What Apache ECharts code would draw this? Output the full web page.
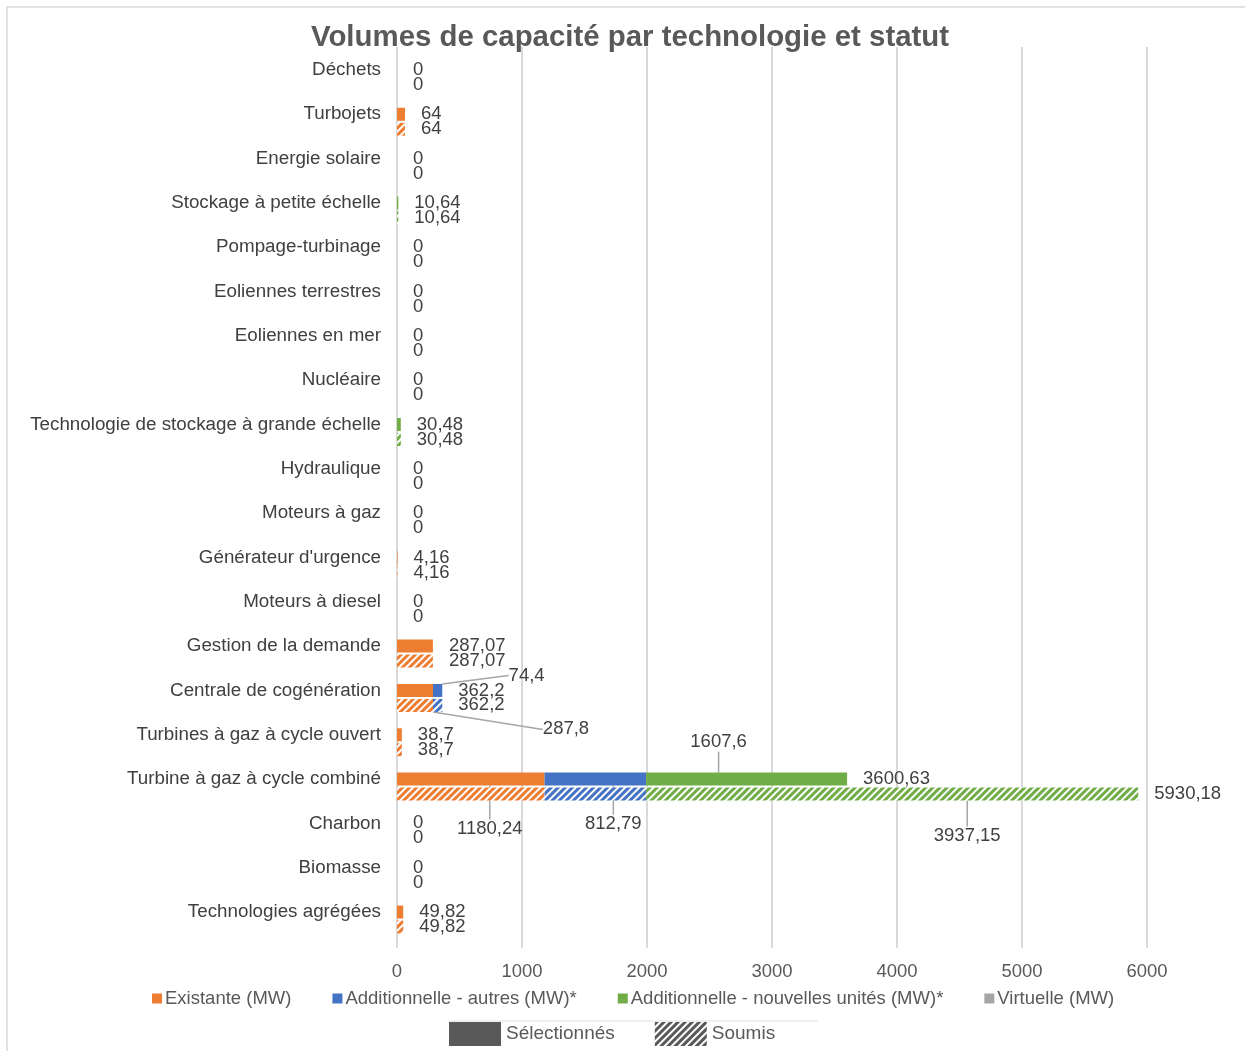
<!DOCTYPE html>
<html><head><meta charset="utf-8">
<script src="https://cdn.jsdelivr.net/npm/echarts@6/dist/echarts.min.js"></script>
<style>html,body{margin:0;padding:0;background:#fff}#c{width:1245px;height:1051px}</style>
</head><body><div id="c"></div>
<script>
// ---------- DATA ----------
const categories = ["Déchets","Turbojets","Energie solaire","Stockage à petite échelle","Pompage-turbinage","Eoliennes terrestres","Eoliennes en mer","Nucléaire","Technologie de stockage à grande échelle","Hydraulique","Moteurs à gaz","Générateur d'urgence","Moteurs à diesel","Gestion de la demande","Centrale de cogénération","Turbines à gaz à cycle ouvert","Turbine à gaz à cycle combiné","Charbon","Biomasse","Technologies agrégées"];
const seriesNames = ["Existante (MW)","Additionnelle - autres (MW)*","Additionnelle - nouvelles unités (MW)*","Virtuelle (MW)"];
const statusNames = ["Sélectionnés","Soumis"];
// Sélectionnés
const selExistante  = [0,64,0,0,0,0,0,0,0,0,0,4.16,0,287.07,287.8,38.7,1180.24,0,0,49.82];
const selAutres     = [0,0,0,0,0,0,0,0,0,0,0,0,0,0,74.4,0,812.79,0,0,0];
const selNouvelles  = [0,0,0,10.64,0,0,0,0,30.48,0,0,0,0,0,0,0,1607.6,0,0,0];
const selVirtuelle  = [0,0,0,0,0,0,0,0,0,0,0,0,0,0,0,0,0,0,0,0];
// Soumis
const subExistante  = [0,64,0,0,0,0,0,0,0,0,0,4.16,0,287.07,287.8,38.7,1180.24,0,0,49.82];
const subAutres     = [0,0,0,0,0,0,0,0,0,0,0,0,0,0,74.4,0,812.79,0,0,0];
const subNouvelles  = [0,0,0,10.64,0,0,0,0,30.48,0,0,0,0,0,0,0,3937.15,0,0,0];
const subVirtuelle  = [0,0,0,0,0,0,0,0,0,0,0,0,0,0,0,0,0,0,0,0];
// category indices whose segment value is shown with a leader line
const labelledSegments = {
  selExistante: [16], selAutres: [14, 16], selNouvelles: [16],
  subExistante: [14], subNouvelles: [16]
};
const xMin = 0, xMax = 6000, xStep = 1000;

// ---------- STYLE ----------
const COLORS = ['#ED7D31', '#4472C4', '#70AD47', '#A5A5A5'];
const FONT = 'Liberation Sans, Arial, sans-serif';
const TXT = '#404040';
const BAR_W = 13;
// label offsets (px) from segment centre
const segOffsets = {
  selExistante: {16: [19, 50]},
  selAutres: {14: [89, -15], 16: [18, 45]},
  selNouvelles: {16: [-28, -37]},
  subExistante: {14: [151, 24]},
  subNouvelles: {16: [75, 42]}
};

const fmt = v => String(Math.round(v * 100) / 100).replace('.', ',');
const hatch = c => ({symbol: 'rect', symbolSize: 1, color: c, dashArrayX: [1, 0], dashArrayY: [2.5, 2], rotation: -Math.PI / 4});

function segSeries(key, name, values, stack, colorIdx, hatched) {
  const lab = labelledSegments[key] || [];
  const data = values.map((v, i) => lab.includes(i) ? {
    value: v,
    label: {show: true, formatter: fmt(v), color: TXT, fontSize: 18.5, fontFamily: FONT, position: 'inside'},
    labelLine: {show: true, lineStyle: {color: '#a6a6a6', width: 1.5}}
  } : v);
  return {
    type: 'bar', name: name, stack: stack, barWidth: BAR_W, barGap: '15%',
    xAxisIndex: 0, yAxisIndex: 0, data: data,
    itemStyle: hatched ? {color: '#ffffff', decal: hatch(COLORS[colorIdx])} : {color: COLORS[colorIdx]},
    label: {show: false},
    labelLayout: function (p) {
      const o = (segOffsets[key] || {})[p.dataIndex];
      if (!o) return {};
      return {x: p.rect.x + p.rect.width / 2 + o[0], y: p.rect.y + p.rect.height / 2 + o[1], align: 'center', verticalAlign: 'middle'};
    },
    emphasis: {disabled: true}, silent: true, animation: false
  };
}
function totalSeries(stack, parts) {
  return {
    type: 'bar', name: '__total_' + stack, stack: stack, barWidth: BAR_W, barGap: '15%',
    data: parts[0].map(() => 0),
    itemStyle: {color: 'transparent'},
    label: {show: true, position: 'right', distance: 16, color: TXT, fontSize: 18.5, fontFamily: FONT,
      formatter: p => fmt(parts.reduce((s, a) => s + a[p.dataIndex], 0))},
    silent: true, animation: false
  };
}

const series = [
  {type: 'bar', name: '__slot', stack: 'slot', barWidth: BAR_W, barGap: '15%', data: [], silent: true},
  segSeries('selExistante', seriesNames[0], selExistante, 'sel', 0, false),
  segSeries('selAutres', seriesNames[1], selAutres, 'sel', 1, false),
  segSeries('selNouvelles', seriesNames[2], selNouvelles, 'sel', 2, false),
  segSeries('selVirtuelle', seriesNames[3], selVirtuelle, 'sel', 3, false),
  totalSeries('sel', [selExistante, selAutres, selNouvelles, selVirtuelle]),
  segSeries('subExistante', seriesNames[0], subExistante, 'sub', 0, true),
  segSeries('subAutres', seriesNames[1], subAutres, 'sub', 1, true),
  segSeries('subNouvelles', seriesNames[2], subNouvelles, 'sub', 2, true),
  segSeries('subVirtuelle', seriesNames[3], subVirtuelle, 'sub', 3, true),
  totalSeries('sub', [subExistante, subAutres, subNouvelles, subVirtuelle]),
  {type: 'bar', name: statusNames[0], xAxisIndex: 1, yAxisIndex: 1, data: [], itemStyle: {color: '#595959'}},
  {type: 'bar', name: statusNames[1], xAxisIndex: 1, yAxisIndex: 1, data: [], itemStyle: {color: '#ffffff', decal: hatch('#595959')}}
];

const chart = echarts.init(document.getElementById('c'), null, {renderer: 'canvas'});
chart.setOption({
  backgroundColor: '#ffffff',
  animation: false,
  title: {text: 'Volumes de capacité par technologie et statut', left: 306, top: 18,
    textStyle: {fontSize: 29.4, fontWeight: 'bold', color: '#595959', fontFamily: FONT}},
  grid: [
    {left: 397, right: 98, top: 47.8, height: 886.4, containLabel: false},
    {left: 397, right: 98, top: 47, height: 901, containLabel: false}
  ],
  xAxis: [
    {gridIndex: 0, type: 'value', min: xMin, max: xMax, interval: xStep, show: false},
    {gridIndex: 1, type: 'value', min: xMin, max: xMax, interval: xStep,
      axisLine: {show: false}, axisTick: {show: false},
      splitLine: {show: true, lineStyle: {color: '#d9d9d9', width: 2}},
      axisLabel: {color: '#595959', fontSize: 18.5, fontFamily: FONT, margin: 14, formatter: v => String(v)}}
  ],
  yAxis: [
    {gridIndex: 0, type: 'category', data: categories, inverse: true,
      axisLine: {show: false}, axisTick: {show: false}, splitLine: {show: false},
      axisLabel: {color: TXT, fontSize: 18.8, fontFamily: FONT, margin: 16}},
    {gridIndex: 1, type: 'category', data: categories, inverse: true, show: false}
  ],
  legend: [
    {data: seriesNames, left: 147, top: 984, itemWidth: 10, itemHeight: 10, itemGap: 41, icon: 'rect',
      selectedMode: false, textStyle: {color: '#595959', fontSize: 18.5, fontFamily: FONT, padding: [0, 0, 0, -2]}},
    {data: statusNames, left: 444, top: 1017, itemWidth: 52, itemHeight: 24, itemGap: 40, icon: 'rect',
      selectedMode: false, textStyle: {color: '#595959', fontSize: 19, fontFamily: FONT}}
  ],
  graphic: [
    {type: 'rect', shape: {x: 7, y: 7, width: 1250, height: 1060}, style: {fill: 'none', stroke: '#d9d9d9', lineWidth: 1.5}, silent: true},
    {type: 'line', shape: {x1: 449, y1: 1021, x2: 818, y2: 1021}, style: {stroke: '#e0e0e0', lineWidth: 1}, silent: true}
  ],
  series: series
});
</script>
</body></html>
